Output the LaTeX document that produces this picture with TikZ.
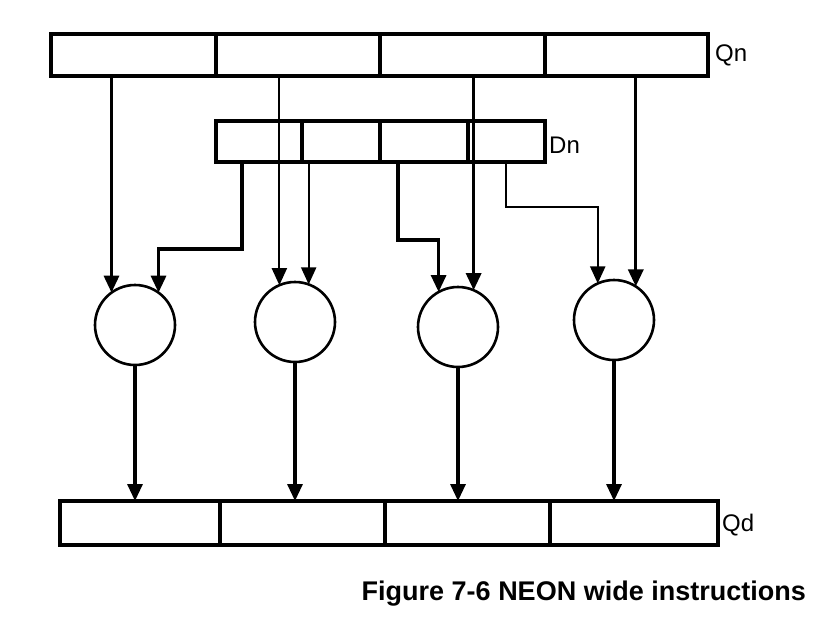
\documentclass[tikz,border=0pt]{standalone}
\usepackage{fontspec}
\setmainfont{Liberation Sans}
\usetikzlibrary{arrows.meta}
\begin{document}
\begin{tikzpicture}[x=1pt,y=-1pt,
  cell/.style={draw,line width=3.2pt,anchor=north west,inner sep=0pt,outer sep=0pt},
  ring/.style={draw,circle,line width=2.6pt,minimum size=80pt,inner sep=0pt,outer sep=0pt},
  arr/.style={line width=3.2pt,-{Triangle[length=17pt,width=15pt]}},
  thin arr/.style={line width=2pt,-{Triangle[length=17pt,width=15pt]}},
  lbl/.style={anchor=west,inner sep=0pt,font=\fontsize{24}{24}\selectfont}]
\useasboundingbox (0,0) rectangle (832,624);
% Qn
\node[cell,minimum width=165pt,minimum height=42pt] (qn1) at (51,34) {};
\node[cell,minimum width=164pt,minimum height=42pt] (qn2) at (216,34) {};
\node[cell,minimum width=165pt,minimum height=42pt] (qn3) at (380,34) {};
\node[cell,minimum width=163pt,minimum height=42pt] (qn4) at (545,34) {};
\node[lbl] (qnl) at (715,55) {Qn};
% Dn
\node[cell,minimum width=86pt,minimum height=41pt] (dn1) at (216,121) {};
\node[cell,minimum width=78pt,minimum height=41pt] (dn2) at (302,121) {};
\node[cell,minimum width=88pt,minimum height=41pt] (dn3) at (380,121) {};
\node[cell,minimum width=77pt,minimum height=41pt] (dn4) at (468,121) {};
\node[lbl] (dnl) at (549,145) {Dn};
% circles
\node[ring] (c1) at (135,325) {};
\node[ring] (c2) at (295,322) {};
\node[ring] (c3) at (458,327) {};
\node[ring] (c4) at (614,320) {};
% Qd
\node[cell,minimum width=160pt,minimum height=44pt] (qd1) at (60,501) {};
\node[cell,minimum width=165pt,minimum height=44pt] (qd2) at (220,501) {};
\node[cell,minimum width=165pt,minimum height=44pt] (qd3) at (385,501) {};
\node[cell,minimum width=168pt,minimum height=44pt] (qd4) at (550,501) {};
\node[lbl] (qdl) at (722,525) {Qd};
% Qn arrows
\draw[arr] (c1.126 |- qn1.south) -- (c1.126);
\draw[thin arr] (c2.113 |- qn2.south) -- (c2.113);
\draw[arr] (c3.67 |- qn3.south) -- (c3.67);
\draw[arr] (c4.57 |- qn4.south) -- (c4.57);
% Dn arrows
\coordinate (d1) at (242,162);
\coordinate (d3) at (398,162);
\coordinate (d4) at (506,162);
\draw[arr] (d1) -- (242,249) -| (c1.54);
\draw[thin arr] (c2.70 |- dn2.south) -- (c2.70);
\draw[arr] (d3) -- (398,240) -| (c3.119);
\draw[thin arr] (d4) -- (506,207) -| (c4.114);
% outputs
\draw[arr] (c1.south) -- (c1.south |- qd1.north);
\draw[arr] (c2.south) -- (c2.south |- qd2.north);
\draw[arr] (c3.south) -- (c3.south |- qd3.north);
\draw[arr] (c4.south) -- (c4.south |- qd4.north);
% caption
\node[anchor=east,inner sep=0pt,font=\fontsize{27}{27}\selectfont\bfseries] (cap) at (806,594) {Figure 7-6 NEON wide instructions};
\end{tikzpicture}
\end{document}
